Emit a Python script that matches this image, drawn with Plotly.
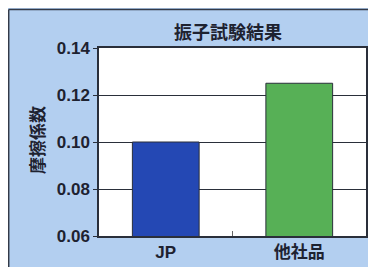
import plotly.graph_objects as go

categories = ["JP", "他社品"]
values = [0.100, 0.125]
bar_colors = ["#2448b4", "#57b056"]
title_text = "振子試験結果"
y_title = "摩擦係数"
y_ticks = [0.06, 0.08, 0.10, 0.12, 0.14]

# the page body adds an 8px offset; the figure fills the rest of the window
OFF = 8
W, H = 376 - OFF, 267 - OFF
ML, MR, MT, MB = 99 - OFF, 10, 48 - OFF, 31
PW, PH = W - ML - MR, H - MT - MB

def px_x(p):
    return (p - OFF - ML) / PW

def px_y(p):
    return (H - MB - (p - OFF)) / PH

font_main = "Liberation Sans, Noto Sans CJK JP, sans-serif"
dark = "#2a2f3a"

fig = go.Figure(
    go.Bar(
        x=categories,
        y=values,
        marker=dict(color=bar_colors, line=dict(color=dark, width=1)),
        width=0.5,
    )
)

shapes = [
    dict(type="line", xref="paper", yref="paper", x0=px_x(8.7), x1=px_x(8.7), y0=px_y(9.5), y1=px_y(270),
         line=dict(color="#333a48", width=1.5)),
    dict(type="line", xref="paper", yref="paper", x0=px_x(8.7), x1=px_x(380), y0=px_y(9.5), y1=px_y(9.5),
         line=dict(color="#333a48", width=1.5)),
]

fig.update_layout(
    width=W,
    height=H,
    margin=dict(l=ML, r=MR, t=MT, b=MB, autoexpand=False),
    paper_bgcolor="#b3cff0",
    plot_bgcolor="#ffffff",
    showlegend=False,
    bargap=0.5,
    shapes=shapes,
    title=dict(
        text=title_text,
        x=(228 - OFF) / W,
        xanchor="center",
        xref="container",
        y=1 - (33 - OFF) / H,
        yanchor="middle",
        yref="container",
        font=dict(family="Noto Sans CJK JP, sans-serif", size=18, color="#1e2230", weight="bold"),
    ),
    annotations=[
        dict(
            text=y_title,
            xref="paper",
            yref="paper",
            x=px_x(36),
            y=px_y(140),
            xanchor="center",
            yanchor="middle",
            textangle=-90,
            showarrow=False,
            font=dict(family="Noto Sans CJK JP, sans-serif", size=17, color="#1e2230", weight="bold"),
        )
    ],
    xaxis=dict(
        automargin=False,
        showline=True,
        mirror=True,
        linecolor=dark,
        linewidth=1.5,
        ticks="inside",
        tickson="boundaries",
        ticklen=5,
        tickcolor="#666",
        tickfont=dict(family=font_main, size=17, color="#1e2230", weight="bold"),
        showgrid=False,
    ),
    yaxis=dict(
        automargin=False,
        range=[0.06, 0.14],
        tickvals=y_ticks,
        ticktext=[f"{v:.2f}" for v in y_ticks],
        showline=True,
        mirror=True,
        linecolor=dark,
        linewidth=1.5,
        ticks="outside",
        ticklen=4,
        tickcolor=dark,
        showgrid=True,
        gridcolor=dark,
        gridwidth=1.2,
        zeroline=False,
        tickfont=dict(family=font_main, size=17, color="#1e2230", weight="bold"),
    ),
)

fig.write_html("out.html")
